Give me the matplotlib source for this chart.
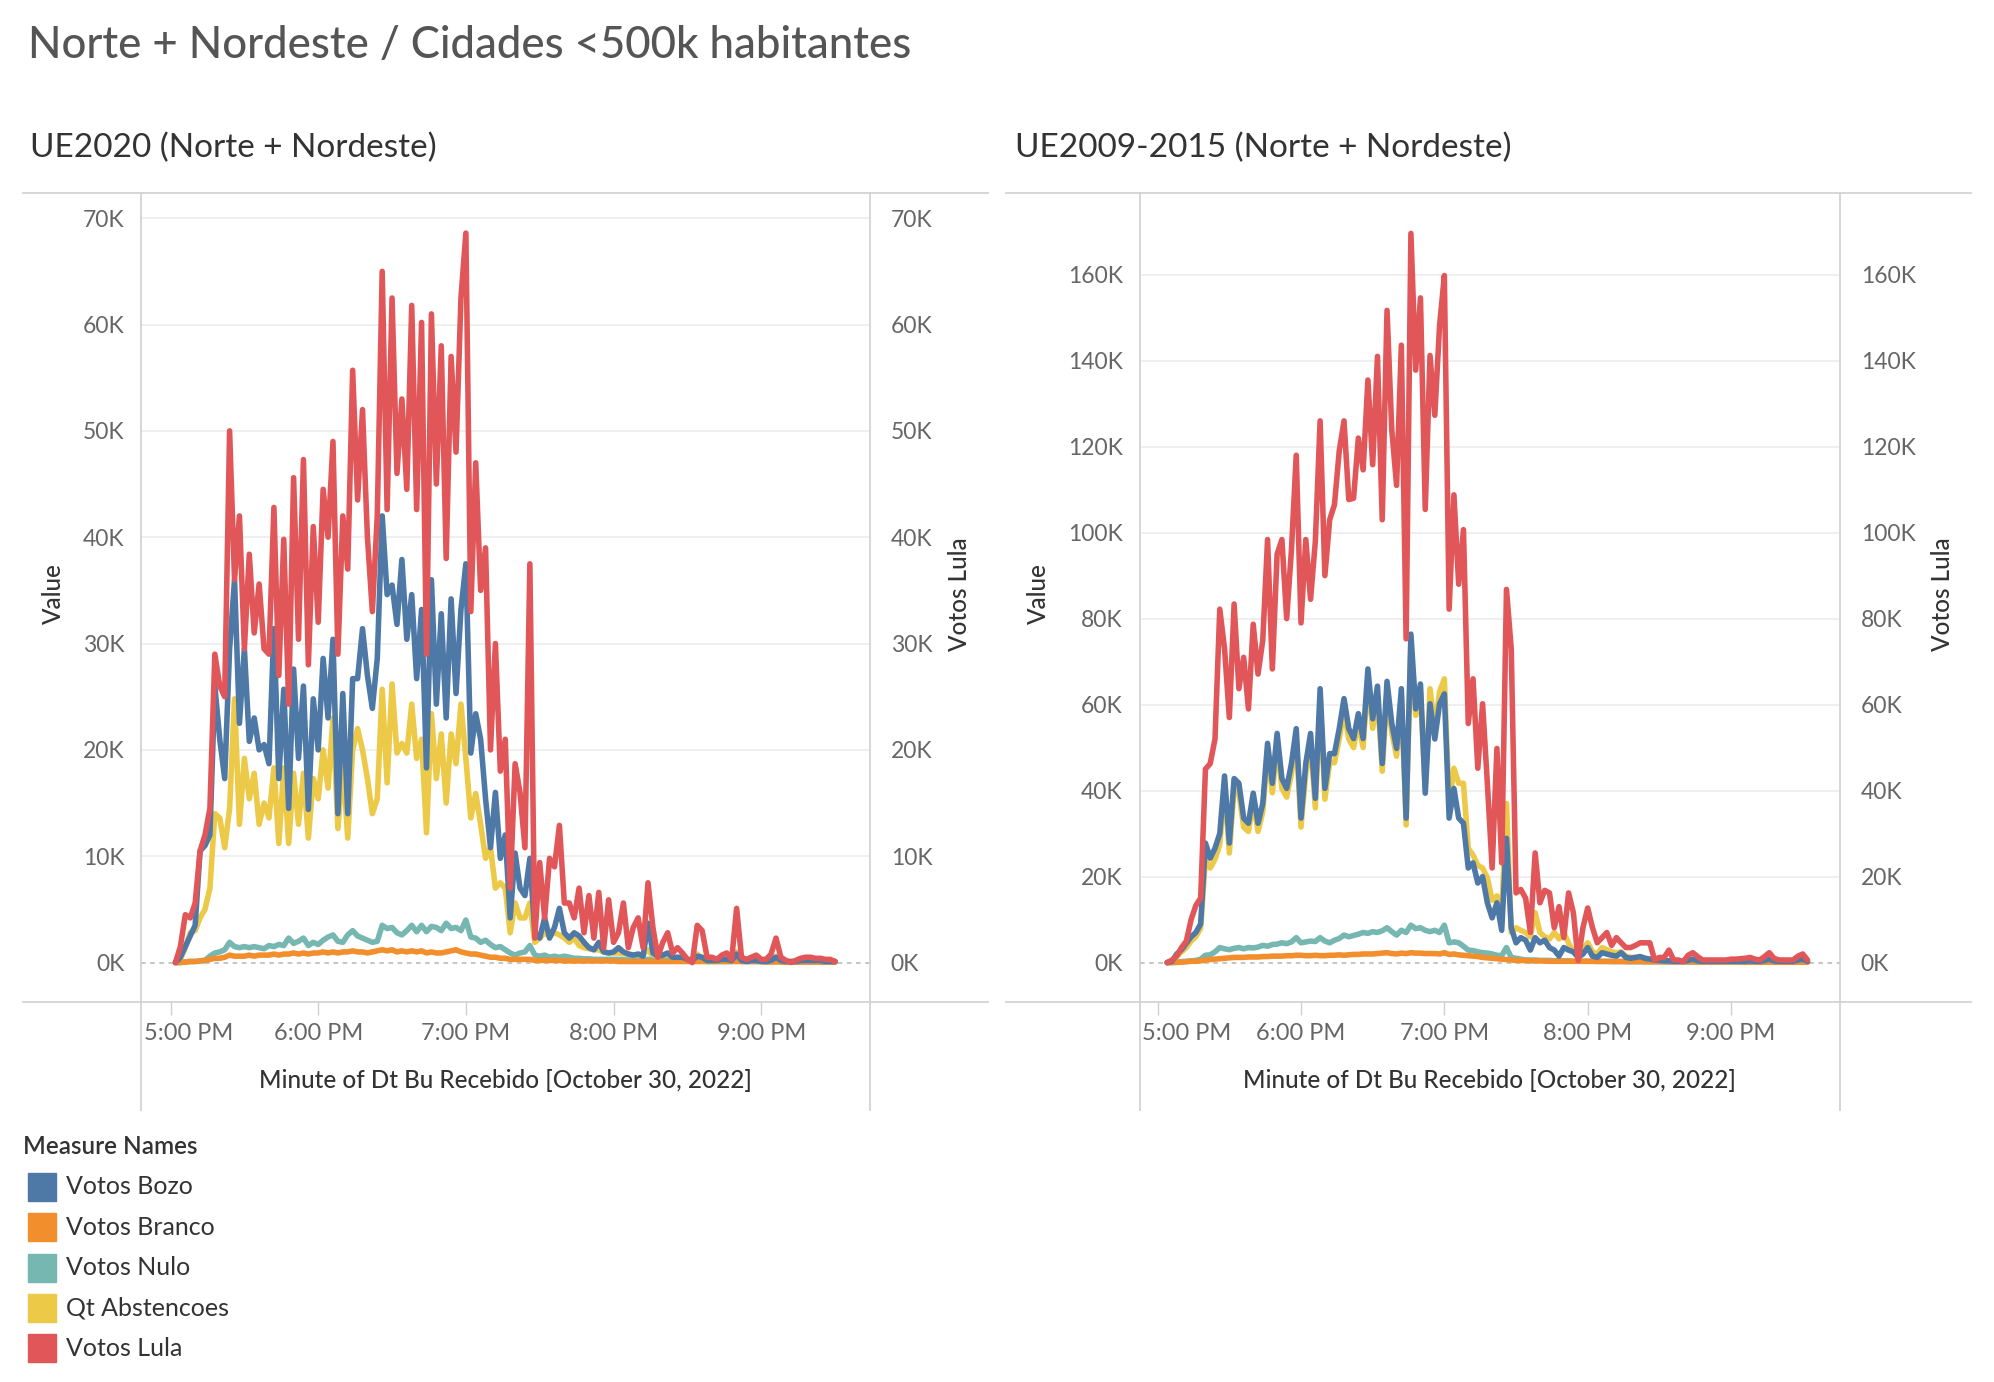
import numpy as np
import matplotlib
matplotlib.use('Agg')
import matplotlib.pyplot as plt
from matplotlib.lines import Line2D
from matplotlib.patches import Rectangle

plt.rcParams['font.family'] = ['Lato', 'DejaVu Sans']

# Minutes after 5:00 PM (2-minute buckets), values in thousands of votes
minutes_l = np.arange(2, 272, 2)
minutes_r = np.arange(4, 274, 2)

# UE2020 (Norte + Nordeste)
lula_l = [
    0, 1.5, 4.5, 4.2, 5.6, 10.5, 12, 14.5, 29, 26,
    25, 50, 36, 42, 29.5, 38.4, 31, 35.6, 29.5, 29,
    42.8, 27, 39.8, 24.3, 45.6, 30.4, 47.3, 28, 41, 32,
    44.5, 40, 49, 29, 42, 37, 55.7, 43.5, 52, 40,
    33, 42, 65, 42.6, 62.5, 46, 53, 44.5, 61.8, 42.6,
    60.2, 29, 61, 45, 58, 38, 57, 48, 62.5, 68.6,
    33, 47, 35, 39, 20, 30, 18, 21, 7, 18.7,
    16, 10.8, 37.5, 2.3, 9.4, 4.2, 9.8, 9, 12.9, 5.6,
    5.6, 4.2, 7, 2.8, 6.3, 2.3, 6.6, 1.4, 5.9, 1.9,
    2.8, 5.6, 1.4, 3.3, 4.2, 1.4, 7.5, 3.3, 0.5, 1.9,
    2.8, 0.9, 1.4, 0.9, 0.3, 0, 3.5, 3.0, 0.5, 0.5,
    0.3, 0.7, 0.9, 0.3, 5.1, 0.5, 0.3, 0.5, 0.7, 0.3,
    0.3, 0.8, 2.3, 0.5, 0.2, 0, 0.2, 0.4, 0.5, 0.5,
    0.4, 0.4, 0.3, 0.3, 0.1,
]
bozo_l = [
    0, 0.5, 1.5, 2.5, 3.5, 10.5, 11, 12, 26, 21,
    17.3, 29.5, 36, 22.5, 29.5, 20.8, 23, 20, 20.5, 18.7,
    31.4, 17.3, 25.7, 14.5, 27.6, 19.2, 26, 14.4, 24.8, 20,
    28.6, 23, 30.4, 14, 25.3, 14, 26.7, 26.7, 31.4, 27,
    23.9, 28.6, 42, 34.6, 35.5, 31.8, 37.9, 30.4, 34.6, 26.7,
    33.2, 18.3, 36, 24.3, 32.8, 23, 34.2, 25.3, 33.2, 37.5,
    19.7, 23.4, 21, 15.4, 10.8, 16, 9.8, 12, 4.2, 10.3,
    7, 6.3, 9.8, 2.8, 2.3, 4.2, 2.3, 3.3, 5.1, 2.8,
    2.3, 2.8, 2.5, 1.9, 1.4, 1.2, 1.9, 1.0, 0.9, 1.0,
    1.4, 1.0, 0.8, 0.7, 0.8, 0.6, 3.7, 0.9, 0.6, 0.7,
    0.9, 0.5, 0.5, 0.5, 0.3, 0.2, 0.6, 0.5, 0.2, 0.2,
    0.2, 0.3, 0.3, 0.2, 0.8, 0.2, 0.1, 0.2, 0.2, 0.1,
    0.1, 0.2, 0.5, 0.2, 0.1, 0.1, 0.1, 0.2, 0.2, 0.2,
    0.2, 0.2, 0.1, 0.1, 0.1,
]
abst_l = [
    0, 0.3, 1.4, 2.8, 3, 4.2, 5, 7, 14, 13.6,
    10.8, 14.5, 24.8, 13, 19.2, 15.4, 17.8, 13, 15, 13.6,
    18.3, 11.2, 18.3, 11.2, 17.8, 13, 17.8, 11.7, 17.3, 15.4,
    20, 16.4, 23, 12.6, 18.7, 11.7, 20, 22, 20, 17.3,
    14, 15.4, 25.7, 16.9, 26.2, 19.7, 20.6, 19.7, 24.3, 19.2,
    21, 12.2, 23.4, 17.3, 21.5, 15, 21.5, 18.7, 24.3, 19.2,
    13.6, 15.9, 13, 9.8, 10.8, 7, 7.5, 7, 2.8, 5.6,
    4.2, 4.2, 5.6, 1.9, 2.3, 2.8, 2.5, 2.8, 2.6, 2.3,
    1.9, 2.3, 1.6, 1.4, 1.3, 1.2, 1.2, 1.0, 0.9, 0.9,
    0.9, 0.8, 0.8, 0.7, 0.7, 0.8, 1.2, 0.6, 0.5, 0.5,
    0.5, 0.4, 0.4, 0.4, 0.3, 0.3, 0.8, 0.4, 0.3, 0.3,
    0.3, 0.3, 0.3, 0.2, 1.0, 0.2, 0.2, 0.2, 0.2, 0.2,
    0.2, 0.2, 0.6, 0.2, 0.1, 0.1, 0.1, 0.1, 0.1, 0.1,
    0.1, 0.1, 0.1, 0.1, 0.1,
]
nulo_l = [
    0, 0, 0.05, 0.1, 0.1, 0.15, 0.2, 0.6, 0.9, 1.0,
    1.2, 1.9, 1.5, 1.4, 1.5, 1.4, 1.5, 1.4, 1.3, 1.6,
    1.5, 1.7, 1.6, 2.3, 1.8, 2.0, 2.3, 1.6, 1.9, 1.7,
    2.1, 2.4, 2.6, 2.0, 1.9, 2.6, 3.0, 2.5, 2.3, 2.1,
    1.9, 2.0, 3.5, 3.2, 3.3, 2.8, 2.6, 3.0, 3.5, 2.9,
    3.5, 2.9, 3.4, 3.3, 3.0, 3.7, 3.2, 3.3, 3.0, 4.0,
    2.4, 2.3, 1.9, 2.1, 1.7, 1.4, 1.5, 1.2, 0.9, 0.7,
    0.9, 1.0, 1.6, 0.7, 0.6, 0.7, 0.5, 0.6, 0.5, 0.6,
    0.5, 0.4, 0.4, 0.35, 0.35, 0.3, 0.3, 0.3, 0.3, 0.3,
    0.3, 0.25, 0.25, 0.25, 0.2, 0.2, 0.3, 0.2, 0.2, 0.2,
    0.2, 0.2, 0.15, 0.15, 0.15, 0.15, 0.2, 0.15, 0.1, 0.1,
    0.1, 0.1, 0.1, 0.1, 0.2, 0.1, 0.1, 0.1, 0.1, 0.1,
    0.1, 0.1, 0.15, 0.1, 0.05, 0.05, 0.05, 0.05, 0.05, 0.05,
    0.05, 0.05, 0.05, 0.05, 0.05,
]
branco_l = [
    0, 0, 0.05, 0.1, 0.1, 0.15, 0.2, 0.3, 0.4, 0.4,
    0.5, 0.7, 0.6, 0.6, 0.6, 0.7, 0.6, 0.7, 0.7, 0.7,
    0.8, 0.7, 0.8, 0.8, 0.9, 0.8, 0.9, 0.8, 0.9, 0.9,
    1.0, 0.9, 1.0, 0.9, 1.0, 1.0, 1.1, 1.0, 1.0, 0.9,
    1.0, 1.1, 1.2, 1.1, 1.2, 1.0, 1.1, 1.0, 1.1, 1.0,
    1.1, 0.9, 1.0, 0.9, 0.9, 1.0, 1.1, 1.2, 1.0, 0.9,
    0.8, 0.8, 0.7, 0.6, 0.5, 0.5, 0.4, 0.4, 0.3, 0.3,
    0.3, 0.3, 0.3, 0.2, 0.2, 0.2, 0.2, 0.2, 0.2, 0.15,
    0.15, 0.15, 0.15, 0.15, 0.15, 0.15, 0.15, 0.15, 0.15, 0.15,
    0.1, 0.1, 0.1, 0.1, 0.1, 0.1, 0.1, 0.1, 0.1, 0.1,
    0.1, 0.1, 0.1, 0.1, 0.1, 0.1, 0.1, 0.1, 0.1, 0.1,
    0.1, 0.1, 0.1, 0.1, 0.1, 0.1, 0.1, 0.1, 0.1, 0.1,
    0.05, 0.05, 0.05, 0.05, 0.05, 0.05, 0.05, 0.05, 0.05, 0.05,
    0.05, 0.05, 0.05, 0.05, 0.05,
]

# UE2009-2015 (Norte + Nordeste)
lula_r = [
    0, 0.6, 1.5, 3.5, 5, 10, 13.3, 15, 45, 46.3,
    52, 82.2, 73, 57, 83.4, 63.7, 71, 59, 78.7, 67.1,
    75, 98.4, 68.3, 95, 98.4, 80, 96, 118, 79, 98.4,
    84.5, 98, 126, 90, 103, 106.5, 119, 126, 107.7, 108,
    122, 114.6, 135.5, 115.8, 141, 103, 151.7, 123.9, 111, 143.6,
    75.3, 169.6, 137.8, 154.6, 105.4, 141.2, 127.3, 148.2, 159.8, 82.2,
    108.8, 88, 100.7, 55.6, 66, 45.2, 60.2, 41.7, 22, 49.8,
    23.2, 86.8, 73, 16.2, 17, 15, 7, 25.5, 13.9, 16.8,
    16.2, 8.1, 13, 5.8, 16.2, 11.6, 0.5, 8.1, 12.7, 8.1,
    4.6, 5.8, 7, 4, 5.8, 4.6, 3.5, 3.5, 4, 4.6,
    4.6, 4.6, 0.6, 1.2, 1.2, 2.9, 0.6, 0.6, 0.2, 1.7,
    2.3, 1.4, 0.6, 0.6, 0.6, 0.6, 0.6, 0.6, 0.8, 0.8,
    0.9, 1.0, 1.2, 0.8, 0.6, 1.4, 2.3, 1.0, 0.6, 0.6,
    0.6, 0.6, 1.5, 2.0, 0.6,
]
bozo_r = [
    0, 0.3, 2, 3, 4.5, 6, 7, 9, 27.8, 24.3,
    26.6, 30, 43.4, 27.8, 42.8, 41.7, 33.6, 32.4, 39.4, 32.4,
    37, 51, 41.7, 53.3, 42.8, 40.5, 46.3, 54.4, 33.6, 46.3,
    53.3, 38.2, 63.7, 40.5, 48.6, 48.6, 54.4, 61.4, 54.4, 52.1,
    57.9, 52.1, 68.3, 56.7, 64.3, 46.3, 65.4, 55.6, 49.8, 63.7,
    33.6, 76.4, 59, 64.8, 39.4, 60.2, 52, 60.2, 62.5, 33.6,
    40.5, 33.6, 32.4, 22, 23.2, 18.5, 20, 13.9, 10.4, 13.9,
    7.5, 28.9, 8.1, 4.6, 5.8, 5.2, 2.9, 5.8, 4.6, 5.2,
    3.5, 2.9, 1.5, 3.5, 2.9, 2.5, 1.2, 2.0, 3.5, 1.5,
    1.2, 2.3, 2.0, 1.7, 1.5, 2.3, 1.2, 1.0, 1.2, 1.4,
    1.0, 0.8, 0.6, 0.5, 0.4, 0.4, 0.3, 0.3, 0.3, 0.5,
    0.8, 0.4, 0.3, 0.3, 0.3, 0.3, 0.3, 0.3, 0.3, 0.3,
    0.3, 0.3, 0.4, 0.3, 0.3, 0.5, 0.8, 0.4, 0.3, 0.3,
    0.3, 0.3, 0.6, 0.8, 0.3,
]
abst_r = [
    0, 0.2, 1.5, 2.5, 3.5, 5, 6, 8, 24, 22,
    24, 27.5, 41, 25.5, 40.5, 39.5, 31.5, 30.5, 37.5, 30.5,
    35, 49, 39.5, 51, 40.5, 38.5, 44, 52, 31.5, 44,
    51, 36, 61.5, 38, 46.5, 46.5, 52, 58.5, 52, 50,
    56, 50, 66, 54.5, 62, 44.5, 63, 53.5, 48, 62,
    32, 74, 57.5, 63, 40.5, 63.7, 54.5, 63, 66, 37,
    45.2, 41.7, 41.7, 26.6, 25, 22.6, 22, 19.7, 14.5, 15.5,
    11.5, 37, 7, 8.1, 7.5, 7, 6, 11.6, 7, 6,
    5.5, 7, 5.5, 7, 4.5, 2.5, 2, 3, 4.6, 2.5,
    2, 3.5, 3, 2.5, 2.3, 2.5, 1.5, 1.2, 1.2, 1.0,
    1.0, 0.8, 0.5, 0.4, 0.4, 0.4, 0.3, 0.3, 0.3, 0.4,
    0.6, 0.3, 0.3, 0.3, 0.3, 0.3, 0.3, 0.3, 0.3, 0.3,
    0.3, 0.3, 0.3, 0.3, 0.3, 0.4, 0.6, 0.3, 0.3, 0.3,
    0.3, 0.3, 0.4, 0.6, 0.3,
]
nulo_r = [
    0, 0, 0.1, 0.2, 0.3, 0.4, 0.5, 0.8, 1.7, 1.8,
    2.5, 3.5, 3.2, 3.0, 3.3, 3.5, 3.2, 3.5, 3.4, 3.6,
    4.0, 3.8, 4.2, 4.3, 4.6, 4.4, 4.8, 5.8, 4.6, 4.8,
    5.0, 4.9, 5.8, 5.0, 4.6, 5.2, 5.6, 6.4, 6.0, 6.3,
    6.6, 7.0, 6.8, 7.2, 7.0, 7.4, 8.1, 7.2, 6.4, 7.5,
    7.0, 8.7, 7.9, 8.1, 7.5, 7.2, 7.5, 7.0, 8.7, 4.6,
    4.8, 4.6, 3.8, 2.9, 2.8, 2.5, 2.3, 2.2, 2.0, 1.7,
    1.6, 3.5, 1.2, 1.0, 0.8, 0.6, 0.6, 0.6, 0.5, 0.5,
    0.5, 0.4, 0.4, 0.4, 0.4, 0.3, 0.3, 0.3, 0.3, 0.3,
    0.3, 0.3, 0.3, 0.25, 0.25, 0.25, 0.2, 0.2, 0.2, 0.2,
    0.2, 0.2, 0.2, 0.2, 0.2, 0.15, 0.15, 0.15, 0.15, 0.15,
    0.15, 0.15, 0.15, 0.15, 0.15, 0.15, 0.15, 0.15, 0.15, 0.15,
    0.1, 0.1, 0.1, 0.1, 0.1, 0.1, 0.1, 0.1, 0.1, 0.1,
    0.1, 0.1, 0.1, 0.1, 0.1,
]
branco_r = [
    0, 0, 0.05, 0.1, 0.2, 0.3, 0.3, 0.4, 0.6, 0.7,
    0.8, 0.9, 1.0, 1.1, 1.2, 1.2, 1.2, 1.3, 1.3, 1.3,
    1.4, 1.4, 1.5, 1.5, 1.5, 1.6, 1.6, 1.7, 1.7, 1.6,
    1.6, 1.7, 1.6, 1.6, 1.7, 1.7, 1.8, 1.7, 1.8, 1.9,
    1.9, 2.0, 2.0, 2.0, 2.1, 2.2, 2.3, 2.1, 2.0, 2.2,
    2.1, 2.3, 2.2, 2.2, 2.1, 2.1, 2.1, 2.0, 2.3, 1.9,
    2.0, 1.8, 1.7, 1.6, 1.5, 1.4, 1.2, 1.1, 1.0, 0.9,
    0.8, 0.7, 0.6, 0.5, 0.5, 0.45, 0.4, 0.4, 0.4, 0.35,
    0.3, 0.3, 0.3, 0.3, 0.3, 0.3, 0.3, 0.3, 0.3, 0.3,
    0.25, 0.25, 0.25, 0.25, 0.25, 0.25, 0.25, 0.25, 0.25, 0.25,
    0.2, 0.2, 0.2, 0.2, 0.2, 0.2, 0.2, 0.2, 0.2, 0.2,
    0.15, 0.15, 0.15, 0.15, 0.15, 0.15, 0.15, 0.15, 0.15, 0.15,
    0.1, 0.1, 0.1, 0.1, 0.1, 0.1, 0.1, 0.1, 0.1, 0.1,
    0.1, 0.1, 0.1, 0.1, 0.1,
]

legend_names = ['Votos Bozo', 'Votos Branco', 'Votos Nulo', 'Qt Abstencoes', 'Votos Lula']
colors = {'Votos Bozo': '#4e79a7', 'Votos Branco': '#f28e2b', 'Votos Nulo': '#76b7b2',
          'Qt Abstencoes': '#edc948', 'Votos Lula': '#e15759'}
hour_ticks = [0, 60, 120, 180, 240]
hour_labels = ['5:00 PM', '6:00 PM', '7:00 PM', '8:00 PM', '9:00 PM']

W, H = 1994, 1382
fig = plt.figure(figsize=(W / 100, H / 100), dpi=100)
TOP, BOTTOM = 193, 1002
LW = 4.0


def fig_line(x0, y0, x1, y1, color='#d3d3d3', lw=1.3):
    fig.add_artist(Line2D([x0 / W, x1 / W], [1 - y0 / H, 1 - y1 / H], color=color, lw=lw,
                          transform=fig.transFigure))


def draw_panel(x0, x1, pane, xlim, ylim, yticks, minutes, data, title, title_x, value_x, lula_x):
    ax = fig.add_axes([x0 / W, 1 - BOTTOM / H, (x1 - x0) / W, (BOTTOM - TOP) / H])
    ax.set_xlim(*xlim)
    ax.set_ylim(*ylim)
    for s in ax.spines.values():
        s.set_visible(False)

    # grid + dashed zero line
    for y in yticks[1:]:
        ax.axhline(y, color='#ececec', lw=1.2, zorder=0)
    ax.axhline(0, color='#b5b5b5', lw=1.1, ls=(0, (3, 3)), zorder=1)

    # measure values (primary axis)
    for name in ['Qt Abstencoes', 'Votos Nulo', 'Votos Branco', 'Votos Bozo']:
        ax.plot(minutes, data[name], color=colors[name], lw=LW, solid_joinstyle='round',
                solid_capstyle='round', zorder=3)

    ax.set_yticks(yticks)
    ax.set_yticklabels([f'{int(v)}K' for v in yticks])
    ax.tick_params(axis='y', length=0, pad=12, labelsize=16.5, labelcolor='#666666')
    ax.set_xticks(hour_ticks)
    ax.set_xticklabels([])
    ax.tick_params(axis='x', length=9, width=1, color='#d0d0d0', direction='out')

    # Votos Lula on the secondary axis (synchronised)
    ax2 = ax.twinx()
    ax2.set_ylim(*ylim)
    for s in ax2.spines.values():
        s.set_visible(False)
    ax2.plot(minutes, data['Votos Lula'], color=colors['Votos Lula'], lw=LW,
             solid_joinstyle='round', solid_capstyle='round', zorder=4)
    ax2.set_yticks(yticks)
    ax2.set_yticklabels([f'{int(v)}K' for v in yticks])
    ax2.tick_params(axis='y', length=0, pad=15, labelsize=16.5, labelcolor='#666666')

    # hour labels (first one is pushed inside the pane like Tableau does)
    trans = ax.get_xaxis_transform()
    ylab = -(1033 - BOTTOM) / (BOTTOM - TOP)
    for t, lab in zip(hour_ticks, hour_labels):
        if t == 0:
            ax.text(0.004, ylab, lab, transform=ax.transAxes, ha='left', va='center',
                    fontsize=17, color='#666666')
        else:
            ax.text(t, ylab, lab, transform=trans, ha='center', va='center',
                    fontsize=17, color='#666666')

    fig.text((x0 + x1) / 2 / W, 1 - 1081 / H, 'Minute of Dt Bu Recebido [October 30, 2022]',
             ha='center', va='center', fontsize=17.5, color='#333333', fontweight='medium')
    fig.text(value_x / W, 1 - 594 / H, 'Value', rotation=90, ha='center', va='center',
             fontsize=17.5, color='#333333', fontweight='medium')
    fig.text(lula_x / W, 1 - 594 / H, 'Votos Lula', rotation=90, ha='center', va='center',
             fontsize=17.5, color='#333333', fontweight='medium')
    fig.text(title_x / W, 1 - 148 / H, title, ha='left', va='center', fontsize=24, color='#333333')

    # pane borders
    fig_line(pane[0], TOP, pane[1], TOP)
    fig_line(pane[0], BOTTOM, pane[1], BOTTOM)
    fig_line(x0, TOP, x0, 1110)
    fig_line(x1, TOP, x1, 1110)
    return ax


data_l = {'Votos Bozo': bozo_l, 'Votos Branco': branco_l, 'Votos Nulo': nulo_l,
          'Qt Abstencoes': abst_l, 'Votos Lula': lula_l}
data_r = {'Votos Bozo': bozo_r, 'Votos Branco': branco_r, 'Votos Nulo': nulo_r,
          'Qt Abstencoes': abst_r, 'Votos Lula': lula_r}

draw_panel(141, 870, (23, 988), (-12, 284.2), (-3.71, 72.37), list(range(0, 80, 10)),
           minutes_l, data_l, 'UE2020 (Norte + Nordeste)', 30, 53, 959)
draw_panel(1139.5, 1840, (1006, 1971), (-7.6, 285.6), (-9.17, 179.0), list(range(0, 180, 20)),
           minutes_r, data_r, 'UE2009-2015 (Norte + Nordeste)', 1015, 1038, 1942)

# main title
fig.text(28 / W, 1 - 46 / H, 'Norte + Nordeste / Cidades <500k habitantes', ha='left', va='center',
         fontsize=31.5, color='#555555', fontweight='medium')

# legend
fig.text(23 / W, 1 - 1147 / H, 'Measure Names', ha='left', va='center', fontsize=17.5,
         color='#333333', fontweight='semibold')
for i, name in enumerate(legend_names):
    yc = 1187 + i * 40.3
    fig.add_artist(Rectangle((28 / W, 1 - (yc + 14) / H), 28 / W, 28 / H, color=colors[name],
                             transform=fig.transFigure))
    fig.text(66 / W, 1 - yc / H, name, ha='left', va='center', fontsize=18, color='#333333')

fig.savefig('out.png', dpi=100)
